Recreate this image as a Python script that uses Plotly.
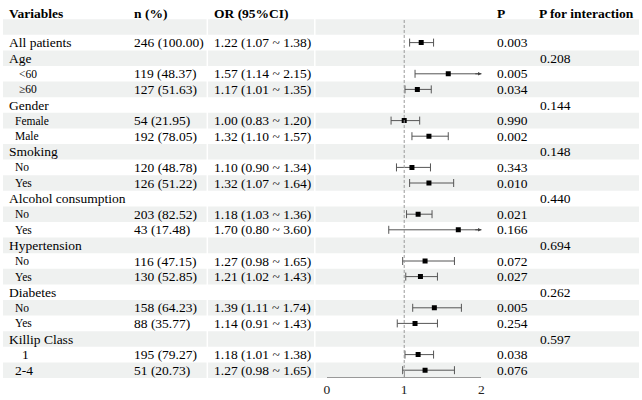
import plotly.graph_objects as go

# ---------------- data ----------------
labels = ["", "All patients", "Age", "<60", "≥60", "Gender", "Female", "Male",
          "Smoking", "No", "Yes", "Alcohol consumption", "No", "Yes",
          "Hypertension", "No", "Yes", "Diabetes", "No", "Yes",
          "Killip Class", "1", "2-4"]
is_sub = [False, False, False, True, True, False, True, True,
          False, True, True, False, True, True,
          False, True, True, False, True, True,
          False, True, True]
n_pct = ["", "246 (100.00)", "", "119 (48.37)", "127 (51.63)", "", "54 (21.95)", "192 (78.05)",
         "", "120 (48.78)", "126 (51.22)", "", "203 (82.52)", "43 (17.48)",
         "", "116 (47.15)", "130 (52.85)", "", "158 (64.23)", "88 (35.77)",
         "", "195 (79.27)", "51 (20.73)"]
or_val = [None, 1.22, None, 1.57, 1.17, None, 1.00, 1.32,
          None, 1.10, 1.32, None, 1.18, 1.70,
          None, 1.27, 1.21, None, 1.39, 1.14,
          None, 1.18, 1.27]
or_lo = [None, 1.07, None, 1.14, 1.01, None, 0.83, 1.10,
         None, 0.90, 1.07, None, 1.03, 0.80,
         None, 0.98, 1.02, None, 1.11, 0.91,
         None, 1.01, 0.98]
or_hi = [None, 1.38, None, 2.15, 1.35, None, 1.20, 1.57,
         None, 1.34, 1.64, None, 1.36, 3.60,
         None, 1.65, 1.43, None, 1.74, 1.43,
         None, 1.38, 1.65]
p_val = ["", "0.003", "", "0.005", "0.034", "", "0.990", "0.002",
         "", "0.343", "0.010", "", "0.021", "0.166",
         "", "0.072", "0.027", "", "0.005", "0.254",
         "", "0.038", "0.076"]
p_int = ["", "", "0.208", "", "", "0.144", "", "",
         "0.148", "", "", "0.440", "", "",
         "0.694", "", "", "0.262", "", "",
         "0.597", "", ""]
headers = ["Variables", "n (%)", "OR (95%CI)", "P", "P for interaction"]
x_ticks = [0, 1, 2]
x_max = 2

# ---------------- layout helpers ----------------
W, H = 642, 400
FONT = "Liberation Serif, Times New Roman, serif"
FS = 13.5
rows = list(range(1, len(labels) + 1))  # row index (header = 0)
row_px0, row_step = 11.4, 15.6
y_top = -row_px0 / row_step
y_bot = (H - row_px0) / row_step
axis_px = 377


def px(x):
    return x / W


fig = go.Figure()

# alternating shading
shapes = []
segments = [(0, 205.5), (207, 314), (315.5, 642)]
for r in rows:
    if r % 2 == 1:
        for a, b in segments:
            shapes.append(dict(type="rect", xref="paper", yref="y", x0=px(a), x1=px(b),
                               y0=r - 0.5, y1=r + 0.5, fillcolor="#eff1f0",
                               line=dict(width=0), layer="below"))
# reference line at OR = 1
shapes.append(dict(type="line", xref="x", yref="y", x0=1, x1=1, y0=0.55,
                   y1=(axis_px - row_px0) / row_step,
                   line=dict(color="#999999", width=1, dash="3px,2px")))
fig.update_layout(shapes=shapes)

# CI + point estimate
ys, xs, ep, em = [], [], [], []
for r, v, lo, hi in zip(rows, or_val, or_lo, or_hi):
    if v is None:
        continue
    ys.append(r)
    xs.append(v)
    ep.append(hi - v)
    em.append(v - lo)
fig.add_trace(go.Scatter(
    x=xs, y=ys, mode="markers",
    marker=dict(symbol="square", size=5, color="black"),
    error_x=dict(type="data", symmetric=False, array=ep, arrayminus=em,
                 color="#555555", thickness=1, width=4),
    showlegend=False, hoverinfo="skip"))

annotations = []
# arrows for clipped upper limits
for r, v, hi in zip(rows, or_val, or_hi):
    if v is not None and hi > x_max:
        annotations.append(dict(x=x_max, y=r, ax=x_max - 0.1, ay=r, xref="x", yref="y",
                                axref="x", ayref="y", text="", showarrow=True,
                                arrowhead=2, arrowsize=0.7, arrowwidth=1,
                                arrowcolor="#444444", standoff=0))

# header
head_x = [4, 130, 211, 497, 539]
for t, hx in zip(headers, head_x):
    annotations.append(dict(x=px(hx), y=0.12, xref="paper", yref="y", text="<b>" + t + "</b>",
                            showarrow=False, xanchor="left", yanchor="middle",
                            font=dict(family=FONT, size=FS, color="black")))

sub_indent = {"<60": 14, "≥60": 14, "1": 17}
for r, lab, sub, n, v, lo, hi, p, pi in zip(rows, labels, is_sub, n_pct, or_val, or_lo, or_hi, p_val, p_int):
    cells = []
    if lab:
        if sub:
            small = lab not in ("1", "2-4")
            cells.append((sub_indent.get(lab, 10), lab, 11.5 if small else FS))
        else:
            cells.append((4, lab, FS))
    if n:
        cells.append((130, n, FS))
    if v is not None:
        cells.append((211, f"{v:.2f} ({lo:.2f} ~ {hi:.2f})", FS))
    if p:
        cells.append((497, p, FS))
    if pi:
        cells.append((540, pi, FS))
    for cx, t, fs in cells:
        annotations.append(dict(x=px(cx), y=r, xref="paper", yref="y", text=t,
                                showarrow=False, xanchor="left", yanchor="middle",
                                font=dict(family=FONT, size=fs, color="black")))

fig.update_layout(
    width=W, height=H, margin=dict(l=0, r=0, t=0, b=0),
    paper_bgcolor="white", plot_bgcolor="rgba(0,0,0,0)",
    annotations=annotations,
    xaxis=dict(domain=[px(327), px(483)], range=[0, x_max], anchor="free",
               position=1 - axis_px / H, showline=True, linecolor="#999999",
               linewidth=1, ticks="inside", ticklen=6, tickcolor="#999999",
               tickvals=x_ticks, showgrid=False, zeroline=False,
               tickfont=dict(family=FONT, size=FS, color="#222222")),
    yaxis=dict(domain=[0, 1], range=[y_bot, y_top], visible=False,
               showgrid=False, zeroline=False),
)

fig.write_html("out.html")
